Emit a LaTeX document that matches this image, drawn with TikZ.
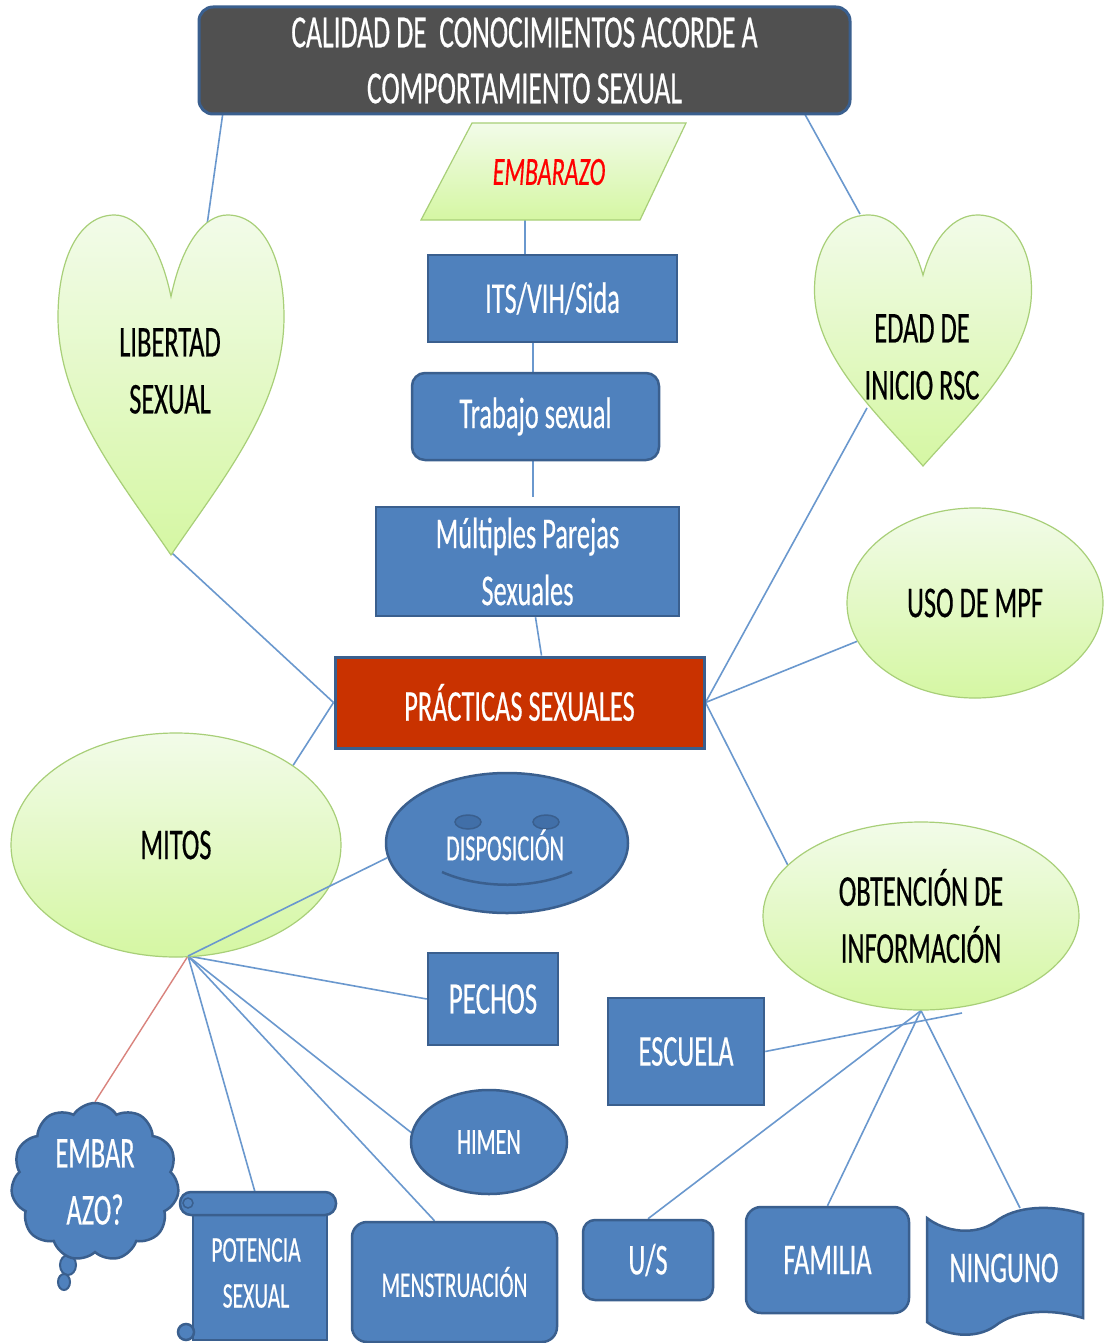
\documentclass[tikz,border=0pt]{standalone}
\usepackage{fontspec}
\setmainfont[FakeStretch=0.6,FakeBold=0.4]{Carlito}
\usetikzlibrary{shapes.geometric,shapes.symbols,calc}
\pgfdeclarelayer{back}
\pgfdeclarelayer{bg}
\pgfsetlayers{back,bg,main}
\definecolor{bfill}{HTML}{4F81BD}
\definecolor{bdraw}{HTML}{3A5F8E}
\definecolor{linkc}{HTML}{6A98CE}
\definecolor{gtop}{HTML}{F2FBE9}
\definecolor{gbot}{HTML}{D5F7A3}
\definecolor{gdraw}{HTML}{A8CF78}
\definecolor{ttl}{HTML}{505050}
\definecolor{prc}{HTML}{C93200}
\definecolor{redl}{HTML}{D9837D}
\definecolor{eyec}{HTML}{416FA8}
\newcommand\myheart[4]{%
  \begin{scope}[shift={(#1,#2)},xscale=#3,yscale=#4]
    \draw[greenfill] (0,0.24) .. controls (-0.1,0.08) and (-0.3,0) .. (-0.5,0)
      .. controls (-0.8,0) and (-1,0.12) .. (-1,0.3)
      .. controls (-1,0.56) and (-0.45,0.78) .. (0,1)
      .. controls (0.45,0.78) and (1,0.56) .. (1,0.3)
      .. controls (1,0.12) and (0.8,0) .. (0.5,0)
      .. controls (0.3,0) and (0.1,0.08) .. (0,0.24) -- cycle;
  \end{scope}}
\begin{document}
\begin{tikzpicture}[x=1pt,y=-1pt,
  bluefill/.style={draw=bdraw, fill=bfill, line width=2.5pt},
  bluebox/.style={bluefill, text=white, align=center, inner sep=0pt},
  greenfill/.style={draw=gdraw, top color=gtop, bottom color=gbot, line width=1.2pt},
  greenbox/.style={greenfill, ellipse, text=black, align=center, inner sep=0pt},
  link/.style={draw=linkc, line width=1.6pt},
  f44/.style={font=\fontsize{44}{57}\selectfont},
  f37/.style={font=\fontsize{37}{46}\selectfont}]
\useasboundingbox (0,0) rectangle (1104,1343);
\begin{pgfonlayer}{back}
\fill[white] (0,0) rectangle (1104,1343);
\end{pgfonlayer}
\clip (0,0) rectangle (1104,1343);

% title
\node[draw=bdraw, fill=ttl, line width=3pt, rounded corners=14pt, minimum width=651pt, minimum height=107pt,
  text=white, align=center, inner sep=0pt, font=\fontsize{46}{56}\selectfont] (title) at (524.5,60.5)
  {CALIDAD DE \ CONOCIMIENTOS ACORDE A\\COMPORTAMIENTO SEXUAL};

% embarazo parallelogram
\draw[greenfill] (472,123) -- (686,123) -- (640,220) -- (421,220) -- cycle;
\node[text=red, font=\itshape\fontsize{40}{48}\selectfont] (emb) at (549,172) {EMBARAZO};
\coordinate (embB) at (525,220);

% central column
\node[bluebox, minimum width=249pt, minimum height=87pt, f44] (its) at (552.5,298.5) {ITS/VIH/Sida};
\node[bluebox, minimum width=247pt, minimum height=87pt, rounded corners=13pt, f44] (trab) at (535.5,416.5) {Trabajo sexual};
\coordinate (trabEnd) at (533,497);
\node[bluebox, minimum width=303pt, minimum height=109pt, f44] (mult) at (527.5,561.5) {Múltiples Parejas\\Sexuales};
\node[draw=bdraw, fill=prc, line width=3pt, minimum width=369pt, minimum height=91pt, text=white, inner sep=0pt, f44] (prac) at (519.5,702.5) {PRÁCTICAS SEXUALES};

% hearts
\myheart{171}{215}{113}{340}
\node[text=black, align=center, f44] (lib) at (170,371) {LIBERTAD\\SEXUAL};
\coordinate (libTop) at (207,225);
\coordinate (libTip) at (172,553);
\myheart{923}{215}{108.5}{251}
\node[text=black, align=center, f44] (edad) at (922,357) {EDAD DE\\INICIO RSC};
\coordinate (edadTop) at (860,214);
\coordinate (edadIn) at (867,408);
\coordinate (tL) at (225,98);
\coordinate (tR) at (797,100);

% green ellipses
\node[greenbox, minimum width=256pt, minimum height=190pt, f44] (uso) at (975,603) {USO DE MPF};
\node[greenbox, minimum width=330pt, minimum height=224pt, f44] (mitos) at (176,845) {MITOS};
\node[greenbox, minimum width=316pt, minimum height=188pt, f44] (obt) at (921,916) {OBTENCIÓN DE\\INFORMACIÓN};
\coordinate (mh) at (188,956);

% disposicion smiley
\node[bluefill, ellipse, minimum width=242pt, minimum height=140pt, inner sep=0pt] (disp) at (507,843) {};
\draw[draw=bdraw, fill=eyec, line width=1.5pt] (468,822) ellipse [x radius=13, y radius=7];
\draw[draw=bdraw, fill=eyec, line width=1.5pt] (546,822) ellipse [x radius=13, y radius=7];
\draw[bdraw, line width=2.5pt] (442,872) .. controls (480,889) and (535,889) .. (572,872);
\node[text=white, f37] (dispLbl) at (505,845) {DISPOSICIÓN};
\draw[link] (mh) -- (disp.187);

% mitos children
\node[bluebox, minimum width=130pt, minimum height=92pt, font=\fontsize{45}{54}\selectfont] (pechos) at (493,999) {PECHOS};
\node[bluebox, ellipse, minimum width=156pt, minimum height=104pt, f37] (himen) at (489,1142) {HIMEN};
\draw[bluefill, line width=2pt] (68,1265) ellipse [x radius=8, y radius=10];
\draw[bluefill, line width=2pt] (64,1282) ellipse [x radius=6, y radius=8];
\node[bluebox, cloud, cloud puffs=11, cloud puff arc=115, aspect=1.1, minimum width=168pt, minimum height=158pt, font=\fontsize{44}{57}\selectfont] (cloud) at (95,1182) {EMBAR\\AZO?};

% potencia scroll
\draw[bluefill] (193,1212) -- (193,1340) -- (327,1340) -- (327,1212);
\draw[bluefill] (186,1332) circle (8);
\draw[bluefill, rounded corners=11pt] (180,1192) rectangle (336,1215);
\draw[bluefill, line width=1.5pt] (188,1203) circle (5);
\node[text=white, align=center, font=\fontsize{36}{46}\selectfont] (pot) at (256,1273) {POTENCIA\\SEXUAL};
\coordinate (potTop) at (255,1192);

\node[bluebox, minimum width=205pt, minimum height=120pt, rounded corners=15pt, font=\fontsize{36}{44}\selectfont] (menst) at (454.5,1282) {MENSTRUACIÓN};

% obtencion children
\node[bluebox, minimum width=156pt, minimum height=107pt, f44] (esc) at (686,1051.5) {ESCUELA};
\coordinate (escEnd) at (962,1013);
\node[bluebox, minimum width=130pt, minimum height=80pt, rounded corners=12pt, f44] (us) at (648,1260) {U/S};
\node[bluebox, minimum width=163pt, minimum height=106pt, rounded corners=15pt, f44] (fam) at (827.5,1260) {FAMILIA};
\draw[bluefill] (927,1218) .. controls (945,1232) and (975,1236) .. (995,1222)
   .. controls (1015,1206) and (1050,1204) .. (1083,1214) -- (1083,1318)
   .. controls (1050,1308) and (1015,1310) .. (995,1326)
   .. controls (975,1340) and (945,1336) .. (927,1322) -- cycle;
\node[text=white, f44] (ning) at (1004,1268) {NINGUNO};
\coordinate (ningTop) at (1020,1208);

% connectors
\begin{pgfonlayer}{bg}
\draw[link] (tL) -- (libTop);
\draw[link] (tR) -- (edadTop);
\draw[link] (embB) -- (embB |- its.north);
\draw[link] (trabEnd |- its.south) -- (trabEnd |- trab.north);
\draw[link] (trabEnd |- trab.south) -- (trabEnd);
\draw[link] ($(mult.south)+(8,0)$) -- ($(prac.north)+(22,0)$);
\draw[link] (libTip) -- (prac.west);
\draw[link] (prac.west) -- (mitos.north east);
\draw[link] (prac.east) -- (edadIn);
\draw[link] (prac.east) -- (uso.198);
\draw[link] (prac.east) -- (obt.159);
\draw[link] (mh) -- (pechos.west);
\draw[link] (mh) -- (himen.173);
\draw[link] (mh) -- ([xshift=-20pt]menst.north);
\draw[link] (mh) -- (potTop);
\draw[draw=redl, line width=1.4pt] (mh) -- (cloud.north);
\draw[link] (esc.east) -- (escEnd);
\draw[link] (obt.south) -- (us.north);
\draw[link] (obt.south) -- (fam.north);
\draw[link] (obt.south) -- (ningTop);
\end{pgfonlayer}
\end{tikzpicture}
\end{document}
